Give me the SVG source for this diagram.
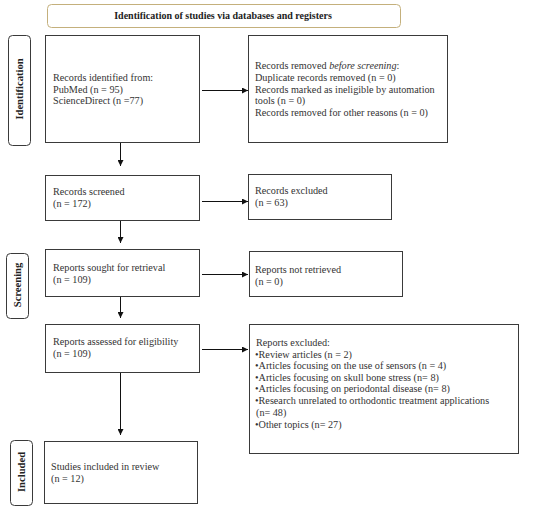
<svg xmlns="http://www.w3.org/2000/svg" width="550" height="511" viewBox="0 0 550 511">
<defs>
<style>
.box{fill:#fff;stroke:#3a3a3a;stroke-width:1}
.lbl{fill:#fff;stroke:#3a3a3a;stroke-width:1}
.t{font-family:"Liberation Serif","DejaVu Serif",serif;font-size:10.2px;fill:#333}
.b{font-family:"Liberation Serif","DejaVu Serif",serif;font-size:10px;font-weight:bold;fill:#222}
.s{font-family:"Liberation Serif","DejaVu Serif",serif;font-size:10.6px;font-weight:bold;fill:#222}
.c{stroke:#111;stroke-width:1;fill:none;marker-end:url(#ah)}
</style>
<marker id="ah" viewBox="0 0 10 10" refX="10" refY="5" markerWidth="6" markerHeight="6" markerUnits="userSpaceOnUse" orient="auto">
<path d="M0,0 L10,5 L0,10 z" fill="#111"/>
</marker>
</defs>
<rect width="550" height="511" fill="#fff"/>
<g id="title">
<rect x="47.5" y="4.5" width="353" height="23" rx="4" fill="#fff" stroke="#c4b07c" stroke-width="1"/>
<text class="b" x="223" y="19" text-anchor="middle">Identification of studies via databases and registers</text>
</g>
<g id="lbl-identification">
<rect class="lbl" x="8.5" y="35.5" width="22" height="110" rx="4"/>
<text class="s" transform="translate(23,89) rotate(-90)" text-anchor="middle">Identification</text>
</g>
<g id="lbl-screening">
<rect class="lbl" x="6.5" y="253.5" width="22" height="65" rx="4"/>
<text class="s" transform="translate(21,285) rotate(-90)" text-anchor="middle">Screening</text>
</g>
<g id="lbl-included">
<rect class="lbl" x="10.5" y="440.5" width="22" height="65" rx="4"/>
<text class="s" transform="translate(25,472) rotate(-90)" text-anchor="middle">Included</text>
</g>
<g id="n1">
<rect class="box" x="45.5" y="35.5" width="154" height="107"/>
<text class="t" x="53" y="81">Records identified from:</text>
<text class="t" x="53" y="93">PubMed (n = 95)</text>
<text class="t" x="53" y="104">ScienceDirect (n =77)</text>
</g>
<g id="n2">
<rect class="box" x="248.5" y="35.5" width="199" height="107"/>
<text class="t" x="255" y="69">Records removed <tspan font-style="italic">before screening</tspan>:</text>
<text class="t" x="255" y="81">Duplicate records removed (n = 0)</text>
<text class="t" x="255" y="93">Records marked as ineligible by automation</text>
<text class="t" x="255" y="104">tools (n = 0)</text>
<text class="t" x="255" y="116">Records removed for other reasons (n = 0)</text>
</g>
<g id="n3">
<rect class="box" x="45.5" y="175.5" width="154" height="45"/>
<text class="t" x="53" y="195">Records screened</text>
<text class="t" x="53" y="207">(n = 172)</text>
</g>
<g id="n4">
<rect class="box" x="248.5" y="174.5" width="143" height="45"/>
<text class="t" x="255" y="194">Records excluded</text>
<text class="t" x="255" y="206">(n = 63)</text>
</g>
<g id="n5">
<rect class="box" x="45.5" y="249.5" width="154" height="47"/>
<text class="t" x="53" y="271">Reports sought for retrieval</text>
<text class="t" x="53" y="283">(n = 109)</text>
</g>
<g id="n6">
<rect class="box" x="249.5" y="251.5" width="153" height="45"/>
<text class="t" x="255" y="273">Reports not retrieved</text>
<text class="t" x="255" y="285">(n = 0)</text>
</g>
<g id="n7">
<rect class="box" x="45.5" y="324.5" width="154" height="48"/>
<text class="t" x="53" y="345">Reports assessed for eligibility</text>
<text class="t" x="53" y="357">(n = 109)</text>
</g>
<g id="n8">
<rect class="box" x="249.5" y="324.5" width="269" height="129"/>
<text class="t" x="256" y="346">Reports excluded:</text>
<text class="t" x="255" y="358">•Review articles (n = 2)</text>
<text class="t" x="255" y="369">•Articles focusing on the use of sensors (n = 4)</text>
<text class="t" x="255" y="381">•Articles focusing on skull bone stress (n= 8)</text>
<text class="t" x="255" y="392">•Articles focusing on periodontal disease (n= 8)</text>
<text class="t" x="255" y="404">•Research unrelated to orthodontic treatment applications</text>
<text class="t" x="256" y="416">(n= 48)</text>
<text class="t" x="255" y="428">•Other topics (n= 27)</text>
</g>
<g id="n9">
<rect class="box" x="44.5" y="441.5" width="153" height="62"/>
<text class="t" x="51" y="470">Studies included in review</text>
<text class="t" x="51" y="482">(n = 12)</text>
</g>
<g id="connectors">
<line class="c" x1="202" y1="90.5" x2="248" y2="90.5"/>
<line class="c" x1="202" y1="201.5" x2="248" y2="201.5"/>
<line class="c" x1="202" y1="274.5" x2="248" y2="274.5"/>
<line class="c" x1="202" y1="349.5" x2="248" y2="349.5"/>
<line class="c" x1="120.5" y1="143" x2="120.5" y2="166"/>
<line class="c" x1="120.5" y1="221" x2="120.5" y2="243"/>
<line class="c" x1="120.5" y1="297" x2="120.5" y2="318"/>
<line class="c" x1="120.5" y1="373" x2="120.5" y2="435"/>
</g>
</svg>
